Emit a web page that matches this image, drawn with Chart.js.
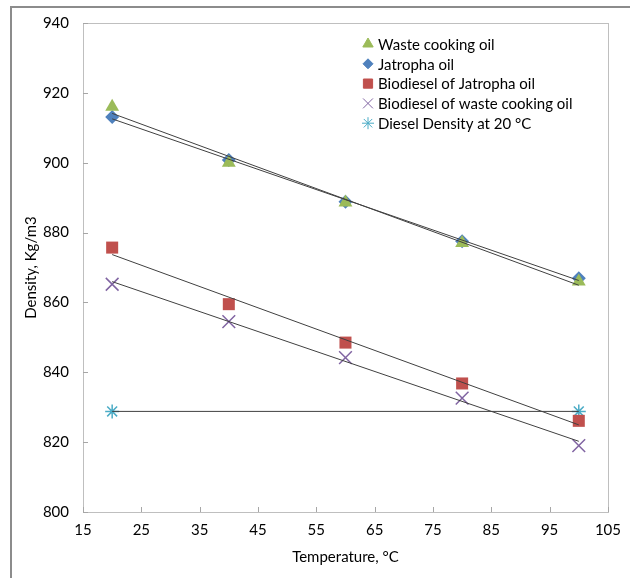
<!DOCTYPE html>
<html>
<head>
<meta charset="utf-8">
<script src="https://cdn.jsdelivr.net/npm/chart.js@4"></script>
<style>
  html, body { margin: 0; padding: 0; background: #fff; }
  #wrap { position: relative; width: 630px; height: 578px; }
  #frame { position: absolute; left: 10px; top: 6px; right: 0; bottom: 0;
           border-top: 2px solid #8c8c8c; border-left: 2px solid #8c8c8c; }
  canvas { position: absolute; left: 0; top: 0; }
</style>
</head>
<body>
<div id="wrap">
  <div id="frame"></div>
  <canvas id="grafico" width="630" height="578"></canvas>
</div>
<script>
const temperaturas = [20, 40, 60, 80, 100];
const oleoResidual = [916.0, 900.0, 888.6, 877.0, 866.0];
const oleoJatropha = [913.1, 900.8, 888.8, 877.5, 866.9];
const biodieselJatropha = [875.7, 859.5, 848.5, 836.8, 826.1];
const biodieselResidual = [865.2, 854.5, 844.2, 832.6, 819.0];
const dieselTemps = [20, 100];
const dieselDensidade = [828.8, 828.8];
const ticksX = [15, 25, 35, 45, 55, 65, 75, 85, 95, 105];

const fonte = "Lato, 'Open Sans', sans-serif";

function pontos(xs, ys) {
  return xs.map((x, i) => ({ x: x, y: ys[i] }));
}

// reta de tendencia (minimos quadrados), como no Excel
function tendencia(xs, ys) {
  const n = xs.length;
  const mx = xs.reduce((a, b) => a + b, 0) / n;
  const my = ys.reduce((a, b) => a + b, 0) / n;
  let num = 0, den = 0;
  xs.forEach((x, i) => { num += (x - mx) * (ys[i] - my); den += (x - mx) * (x - mx); });
  const b = num / den;
  const a = my - b * mx;
  return [{ x: xs[0], y: a + b * xs[0] }, { x: xs[n - 1], y: a + b * xs[n - 1] }];
}

const series = [
  { label: "Waste cooking oil", xs: temperaturas, ys: oleoResidual, cor: "#9BBB59", estilo: "triangle", r: 8, rl: 6 },
  { label: "Jatropha oil", xs: temperaturas, ys: oleoJatropha, cor: "#4F81BD", estilo: "rectRot", r: 7, rl: 5 },
  { label: "Biodiesel of Jatropha oil", xs: temperaturas, ys: biodieselJatropha, cor: "#C0504D", estilo: "rect", r: 8.5, rl: 6.5 },
  { label: "Biodiesel of waste cooking oil", xs: temperaturas, ys: biodieselResidual, cor: "#8064A2", estilo: "crossRot", r: 9, rl: 7 },
  { label: "Diesel Density at 20 °C", xs: dieselTemps, ys: dieselDensidade, cor: "#4BACC6", estilo: "star", r: 7, rl: 6 }
];

const linhaFina = (estilo) => estilo === "crossRot" || estilo === "star";

const datasets = [];
series.forEach(s => {
  datasets.push({
    type: "line",
    data: tendencia(s.xs, s.ys),
    borderColor: "#404040",
    borderWidth: 1,
    pointRadius: 0,
    order: -1
  });
});
series.forEach(s => {
  datasets.push({
    type: "scatter",
    label: s.label,
    data: pontos(s.xs, s.ys),
    pointStyle: s.estilo,
    pointRadius: s.r,
    backgroundColor: s.cor,
    borderColor: s.cor,
    borderWidth: linhaFina(s.estilo) ? 1.5 : 0,
    order: 1
  });
});

const moldura = {
  id: "moldura",
  afterDraw(chart) {
    const { ctx, chartArea: a, scales } = chart;
    ctx.save();
    ctx.strokeStyle = "#bfbfbf";
    ctx.lineWidth = 1;
    ctx.strokeRect(Math.round(a.left) + 0.5, Math.round(a.top) + 0.5,
                   Math.round(a.right - a.left), Math.round(a.bottom - a.top));
    ctx.strokeStyle = "#a6a6a6";
    ctx.beginPath();
    scales.x.ticks.forEach(t => {
      const px = Math.round(scales.x.getPixelForValue(t.value)) + 0.5;
      ctx.moveTo(px, a.bottom); ctx.lineTo(px, a.bottom - 5);
    });
    scales.y.ticks.forEach(t => {
      const py = Math.round(scales.y.getPixelForValue(t.value)) + 0.5;
      ctx.moveTo(a.left, py); ctx.lineTo(a.left + 5, py);
    });
    ctx.stroke();

    // legenda dentro da area do grafico
    ctx.font = "15px " + fonte;
    ctx.textBaseline = "middle";
    series.forEach((s, i) => {
      const y = 44 + i * 19.8;
      ctx.fillStyle = s.cor;
      ctx.strokeStyle = s.cor;
      ctx.lineWidth = linhaFina(s.estilo) ? 1 : 0;
      Chart.helpers.drawPoint(ctx, { pointStyle: s.estilo, radius: s.rl, rotation: 0, borderWidth: ctx.lineWidth }, 368, y);
      ctx.fillStyle = "#000";
      ctx.fillText(s.label, 378, y + 1);
    });
    ctx.restore();
  }
};

const ctx = document.getElementById("grafico").getContext("2d");

new Chart(ctx, {
  type: "scatter",
  data: { datasets: datasets },
  options: {
    responsive: false,
    animation: false,
    layout: { padding: { left: 20, right: 21, top: 18, bottom: 10 } },
    plugins: { legend: { display: false }, tooltip: { enabled: false } },
    scales: {
      x: {
        type: "linear",
        min: 15,
        max: 105,
        afterBuildTicks: (scale) => { scale.ticks = ticksX.map(v => ({ value: v })); },
        afterFit: (scale) => { scale.height = 56; },
        grid: { display: false, drawTicks: false },
        border: { display: false },
        ticks: { padding: 9, color: "#000", font: { family: fonte, size: 15 } },
        title: { display: true, text: "Temperature, °C", color: "#000", padding: { top: 4, bottom: 2 },
                 font: { family: fonte, size: 15 } }
      },
      y: {
        min: 800,
        max: 940,
        ticks: { stepSize: 20, padding: 14, color: "#000", font: { family: fonte, size: 15 } },
        afterFit: (scale) => { scale.width = 63; },
        grid: { display: false, drawTicks: false },
        border: { display: false },
        title: { display: true, text: "Density, Kg/m3", color: "#000", padding: { top: 2, bottom: 4 },
                 font: { family: fonte, size: 15 } }
      }
    }
  },
  plugins: [moldura]
});
</script>
</body>
</html>
